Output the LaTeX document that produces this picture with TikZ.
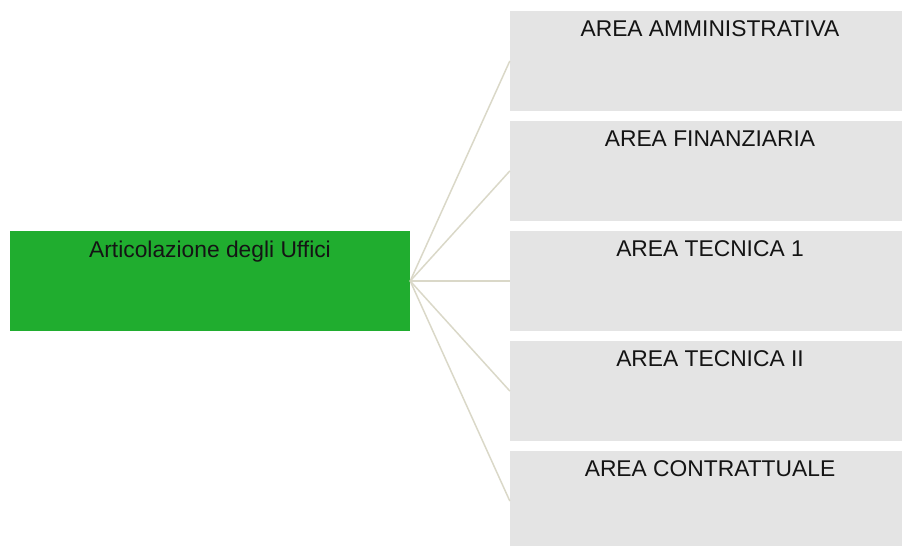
\documentclass[tikz,border=0pt]{standalone}
\usepackage{fontspec}
\setmainfont{Liberation Sans}
\definecolor{boxgreen}{HTML}{20AD2F}
\definecolor{boxgray}{HTML}{E4E4E4}
\definecolor{linkcol}{HTML}{DAD8C8}
\definecolor{txtcol}{HTML}{141414}
\tikzset{
  areabox/.style={rectangle, fill=boxgray, draw=none, minimum width=400pt, minimum height=100pt, inner sep=0pt,
    label={[anchor=north, yshift=-10pt, font=\fontsize{22.8}{26}\selectfont, text=txtcol, inner sep=0pt]north:#1}},
  rootbox/.style={rectangle, fill=boxgreen, draw=none, minimum width=400pt, minimum height=100pt, inner sep=0pt,
    label={[anchor=north, yshift=-10pt, font=\fontsize{22.8}{26}\selectfont, text=txtcol, inner sep=0pt]north:#1}},
  link/.style={draw=linkcol, line width=1.5pt}
}
\begin{document}
\begin{tikzpicture}[x=1pt,y=-1pt]
\useasboundingbox (0,0) rectangle (902,546);
\clip (0,0) rectangle (902,546);
\node[rootbox={Articolazione degli Uffici}] (root) at (210,281) {};
\node[areabox={AREA AMMINISTRATIVA}] (a1) at (710,61) {};
\node[areabox={AREA FINANZIARIA}] (a2) at (710,171) {};
\node[areabox={AREA TECNICA 1}] (a3) at (710,281) {};
\node[areabox={AREA TECNICA II}] (a4) at (710,391) {};
\node[areabox={AREA CONTRATTUALE}] (a5) at (710,501) {};
\foreach \n in {a1,a2,a3,a4,a5}{
  \draw[link] (root.east) -- (\n.west);
}
\end{tikzpicture}
\end{document}
